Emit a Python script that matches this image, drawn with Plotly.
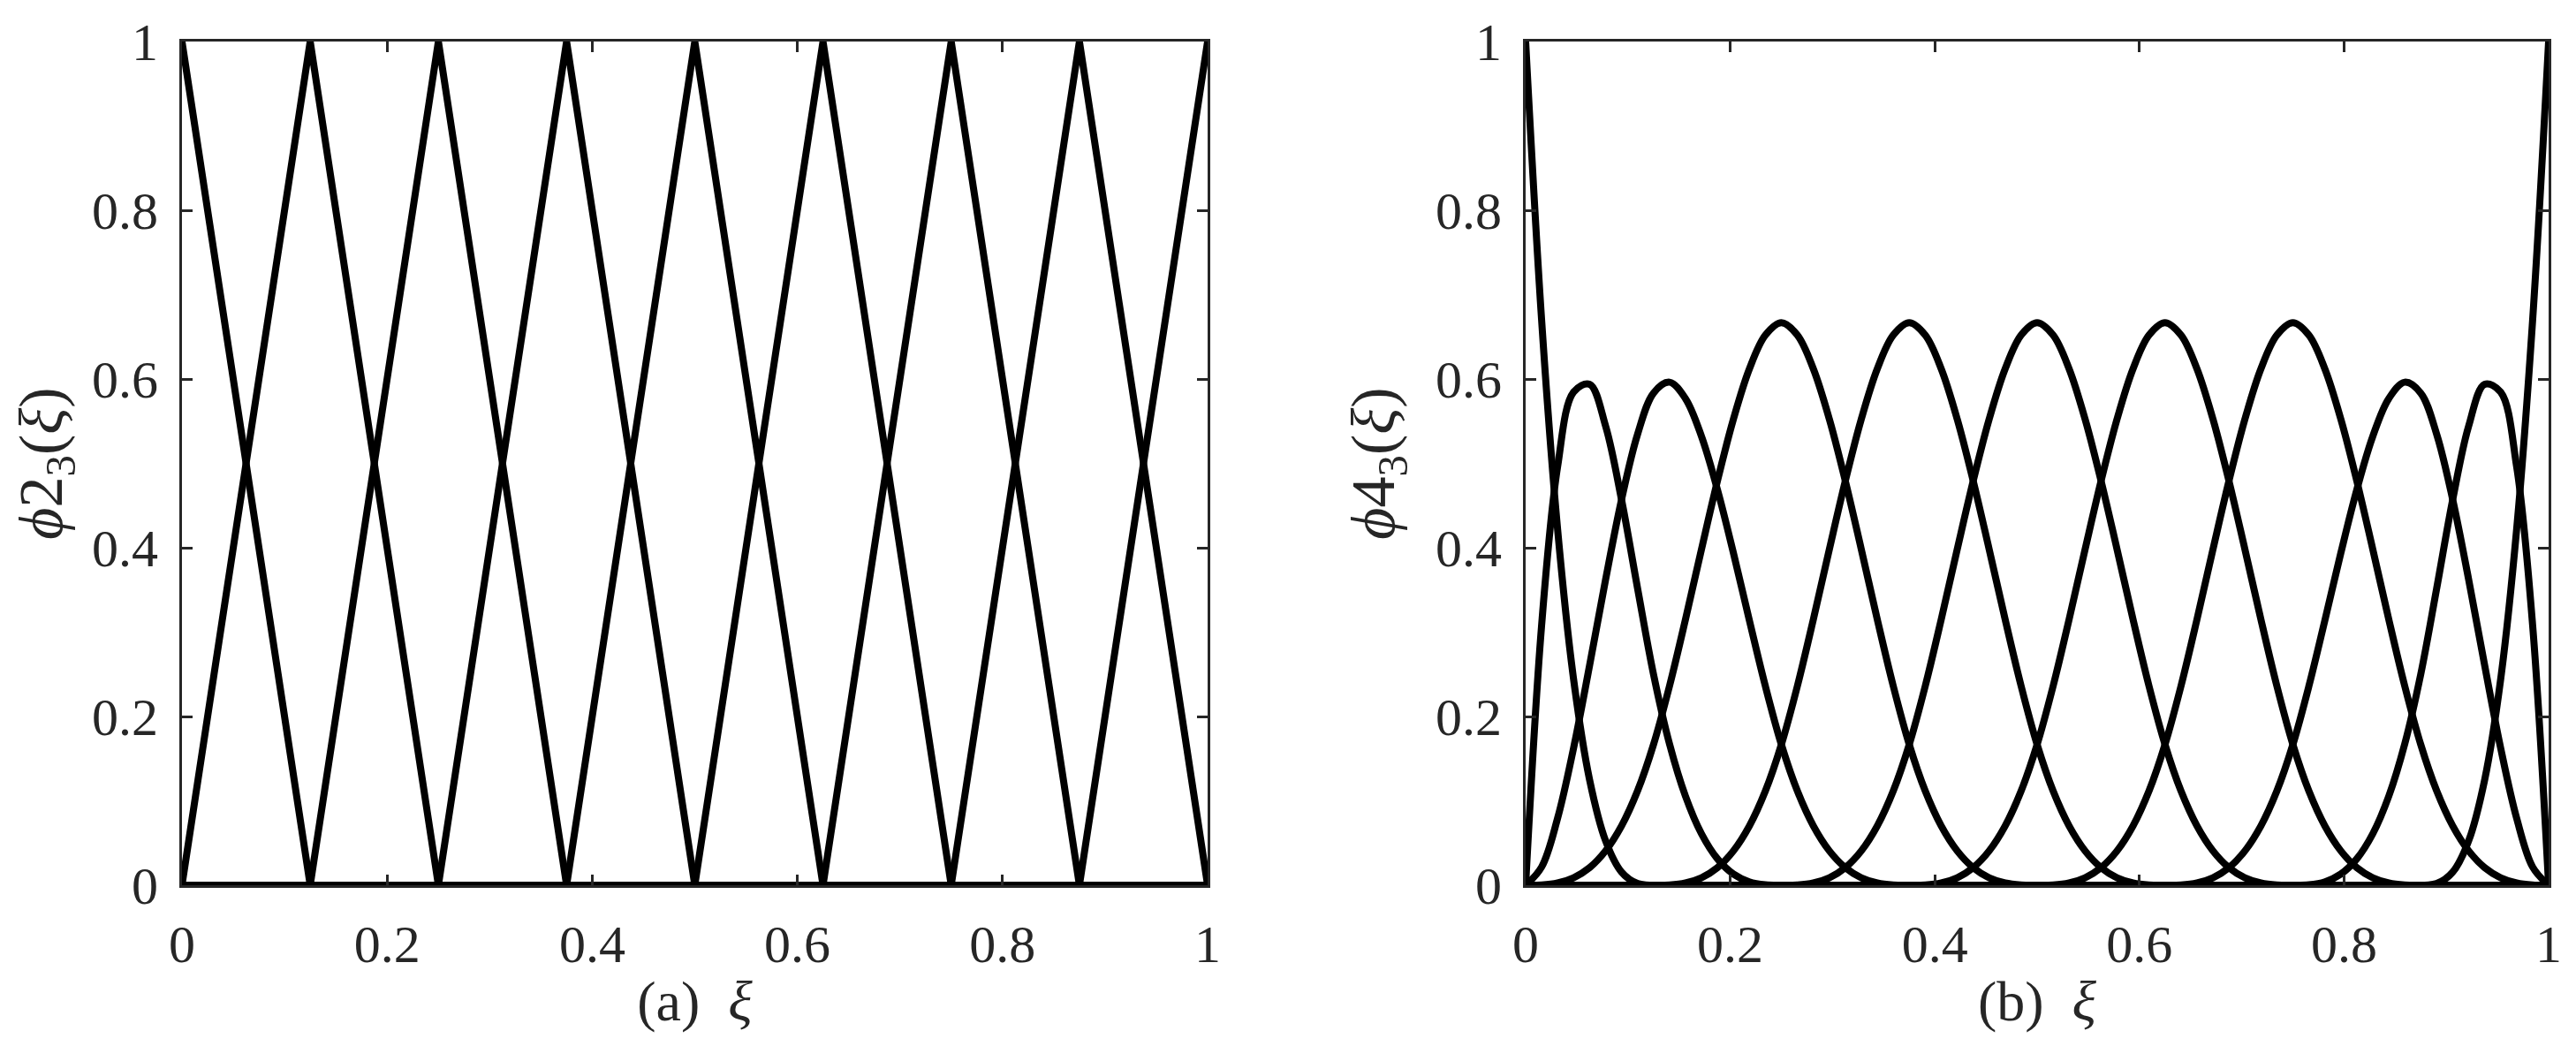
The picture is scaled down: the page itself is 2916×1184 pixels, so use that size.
import plotly.graph_objects as go

# ---------------- data ----------------
# (a) linear basis functions on 8 uniform intervals
xi_a = [0, 0.125, 0.25, 0.375, 0.5, 0.625, 0.75, 0.875, 1]
hat_0 = [1, 0, 0, 0, 0, 0, 0, 0, 0]
hat_1 = [0, 1, 0, 0, 0, 0, 0, 0, 0]
hat_2 = [0, 0, 1, 0, 0, 0, 0, 0, 0]
hat_3 = [0, 0, 0, 1, 0, 0, 0, 0, 0]
hat_4 = [0, 0, 0, 0, 1, 0, 0, 0, 0]
hat_5 = [0, 0, 0, 0, 0, 1, 0, 0, 0]
hat_6 = [0, 0, 0, 0, 0, 0, 1, 0, 0]
hat_7 = [0, 0, 0, 0, 0, 0, 0, 1, 0]
hat_8 = [0, 0, 0, 0, 0, 0, 0, 0, 1]
hats = [hat_0, hat_1, hat_2, hat_3, hat_4, hat_5, hat_6, hat_7, hat_8]

# (b) cubic basis functions, sampled every 1/64
xi_b = [0, 0.015625, 0.03125, 0.046875, 0.0625, 0.078125, 0.09375, 0.109375,
        0.125, 0.140625, 0.15625, 0.171875, 0.1875, 0.203125, 0.21875, 0.234375,
        0.25, 0.265625, 0.28125, 0.296875, 0.3125, 0.328125, 0.34375, 0.359375,
        0.375, 0.390625, 0.40625, 0.421875, 0.4375, 0.453125, 0.46875, 0.484375,
        0.5, 0.515625, 0.53125, 0.546875, 0.5625, 0.578125, 0.59375, 0.609375,
        0.625, 0.640625, 0.65625, 0.671875, 0.6875, 0.703125, 0.71875, 0.734375,
        0.75, 0.765625, 0.78125, 0.796875, 0.8125, 0.828125, 0.84375, 0.859375,
        0.875, 0.890625, 0.90625, 0.921875, 0.9375, 0.953125, 0.96875, 0.984375, 1]
bump = [0, 0.0003, 0.0026, 0.0088, 0.0208, 0.0407, 0.0703, 0.1117, 0.1667,
        0.2360, 0.3151, 0.3981, 0.4792, 0.5524, 0.6120, 0.6520, 0.6667,
        0.6520, 0.6120, 0.5524, 0.4792, 0.3981, 0.3151, 0.2360, 0.1667,
        0.1117, 0.0703, 0.0407, 0.0208, 0.0088, 0.0026, 0.0003, 0]
end_0 = [1, 0.6699, 0.4219, 0.2441, 0.125, 0.0527, 0.0156, 0.0020, 0]
end_1 = [0, 0.3081, 0.4961, 0.5845, 0.5938, 0.5444, 0.4570, 0.3521, 0.25,
         0.1675, 0.1055, 0.0610, 0.0313, 0.0132, 0.0039, 0.0005, 0]
end_2 = [0, 0.0216, 0.0794, 0.1626, 0.2604, 0.3621, 0.4570, 0.5343, 0.5833,
         0.5962, 0.5768, 0.5321, 0.4688, 0.3937, 0.3138, 0.2358, 0.1667,
         0.1117, 0.0703, 0.0407, 0.0208, 0.0088, 0.0026, 0.0003, 0]

cub_0 = end_0 + [0] * 56
cub_1 = end_1 + [0] * 48
cub_2 = end_2 + [0] * 40
cub_3 = bump + [0] * 32
cub_4 = [0] * 8 + bump + [0] * 24
cub_5 = [0] * 16 + bump + [0] * 16
cub_6 = [0] * 24 + bump + [0] * 8
cub_7 = [0] * 32 + bump
cub_8 = [0] * 40 + end_2[::-1]
cub_9 = [0] * 48 + end_1[::-1]
cub_10 = [0] * 56 + end_0[::-1]
cubics = [cub_0, cub_1, cub_2, cub_3, cub_4, cub_5, cub_6, cub_7, cub_8, cub_9, cub_10]

tick_vals = [0, 0.2, 0.4, 0.6, 0.8, 1]
tick_text = ["0", "0.2", "0.4", "0.6", "0.8", "1"]

# ---------------- figure ----------------
W, H = 2916, 1184
OFF = 8  # page body margin
FONT = "Liberation Serif"
AX = "#262626"
LW = 8

fig = go.Figure()
for ys in hats:
    fig.add_trace(go.Scatter(x=xi_a, y=ys, mode="lines", xaxis="x", yaxis="y",
                             line=dict(color="black", width=LW),
                             showlegend=False, hoverinfo="skip", cliponaxis=False))
for ys in cubics:
    fig.add_trace(go.Scatter(x=xi_b, y=ys, mode="lines", xaxis="x2", yaxis="y2",
                             line=dict(color="black", width=LW, shape="spline", smoothing=1),
                             showlegend=False, hoverinfo="skip", cliponaxis=False))

def axis(**kw):
    d = dict(range=[0, 1], tickmode="array", tickvals=tick_vals, ticktext=tick_text,
             ticks="inside", ticklen=12, tickwidth=2.5, tickcolor=AX,
             showline=True, linewidth=3, linecolor=AX, mirror="allticks",
             showgrid=False, zeroline=False, fixedrange=True, automargin=False,
             tickfont=dict(family=FONT, size=60, color=AX),
             ticklabelstandoff=12)
    d.update(kw)
    return d

ybot = 1 - (1002 - OFF) / H
ytop = 1 - (47 - OFF) / H
XT = dict(family=FONT, size=64, color=AX)
YT = dict(family=FONT, size=70, color=AX)

fig.update_layout(
    width=W, height=H,
    margin=dict(l=0, r=0, t=0, b=0),
    paper_bgcolor="white", plot_bgcolor="white",
    xaxis=axis(domain=[(206 - OFF) / W, (1367 - OFF) / W], anchor="y",
               title=dict(text="(a)  <i>ξ</i>", font=XT, standoff=10)),
    yaxis=axis(domain=[ybot, ytop], anchor="x",
               title=dict(text="<i>ϕ</i>2<sub>3</sub>(<i>ξ</i>)", font=YT, standoff=24)),
    xaxis2=axis(domain=[(1727 - OFF) / W, (2885 - OFF) / W], anchor="y2",
                title=dict(text="(b)  <i>ξ</i>", font=XT, standoff=10)),
    yaxis2=axis(domain=[ybot, ytop], anchor="x2",
                title=dict(text="<i>ϕ</i>4<sub>3</sub>(<i>ξ</i>)", font=YT, standoff=24)),
)

fig.write_html("out.html")
